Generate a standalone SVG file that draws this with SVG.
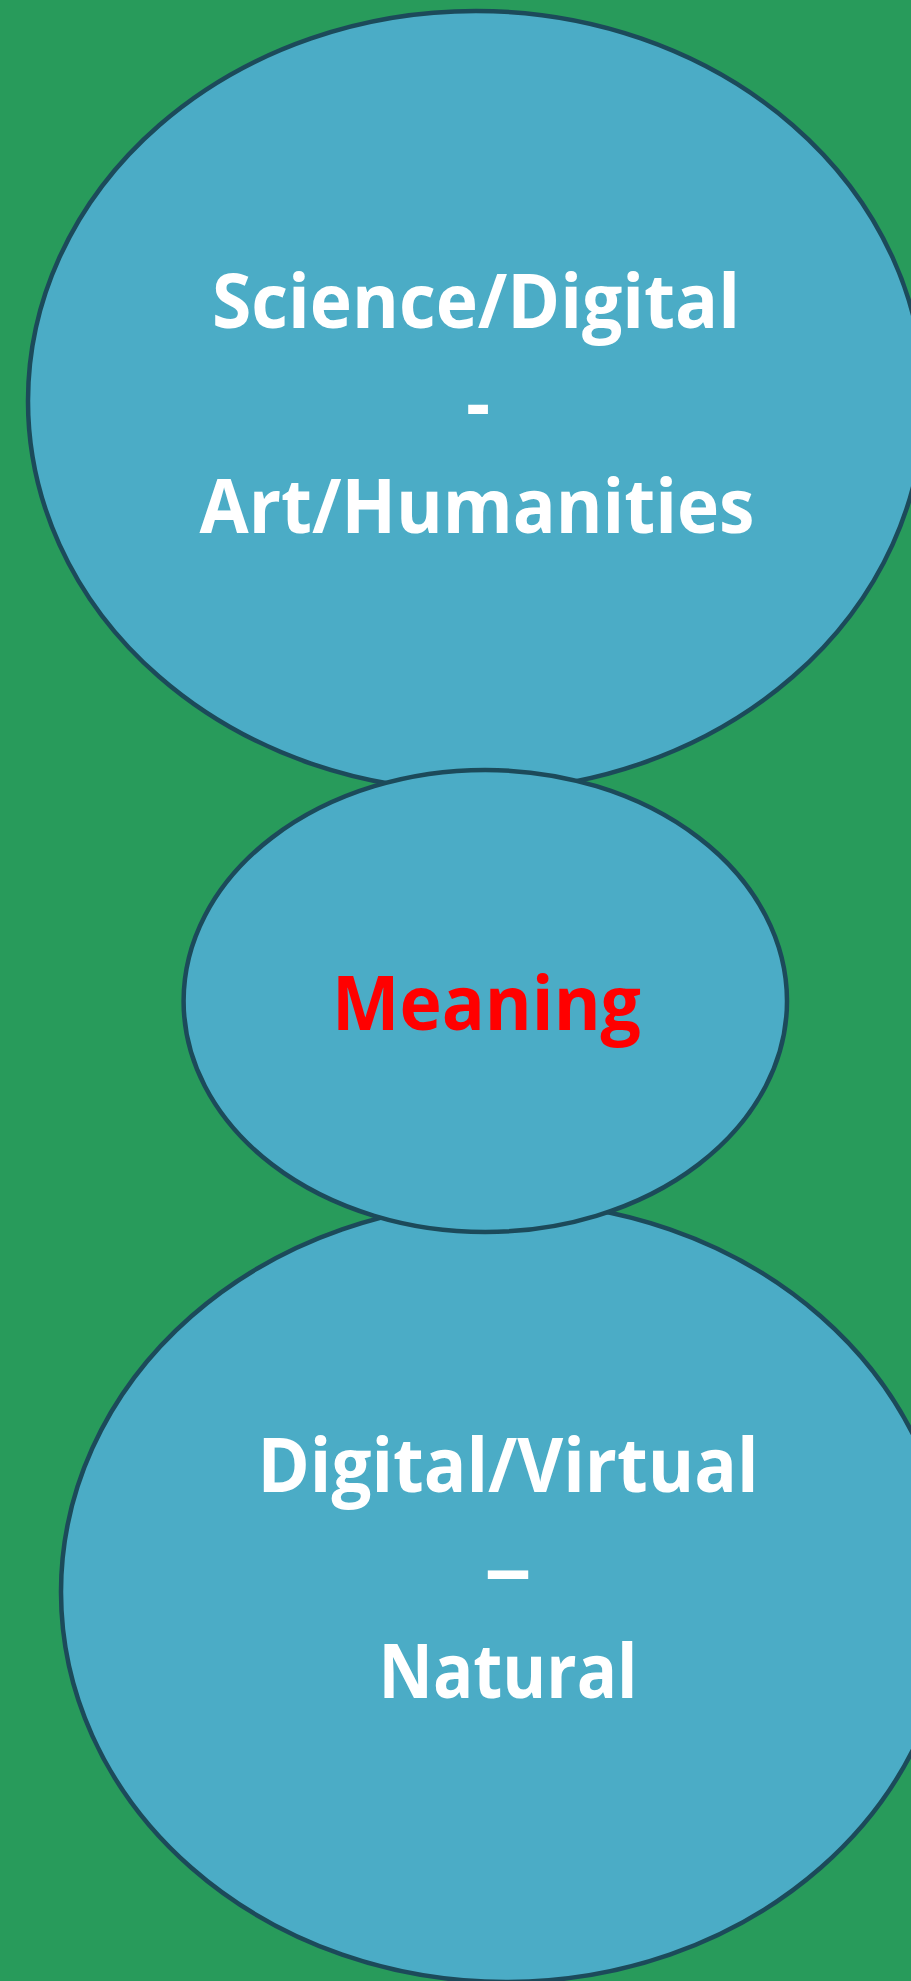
<svg xmlns="http://www.w3.org/2000/svg" width="911" height="1981" viewBox="0 0 911 1981">
<style>
.bubble{fill:#4BACC6;stroke:#1C4A5A;stroke-width:4.5}
.lbl{font-family:"Open Sans","Noto Sans","Liberation Sans",sans-serif;font-weight:bold;font-size:75px;text-anchor:middle;fill:#FFFFFF}
.red{fill:#FF0000}
</style>
<rect x="0" y="0" width="911" height="1981" fill="#289B5B"/>
<g id="connectors"></g>
<g id="node-science">
<ellipse class="bubble" cx="476" cy="401" rx="448" ry="390"/>
<text class="lbl" x="476" y="328" textLength="528" lengthAdjust="spacingAndGlyphs">Science/Digital</text>
<text class="lbl" x="478" y="430">-</text>
<text class="lbl" x="477" y="533" textLength="555" lengthAdjust="spacingAndGlyphs">Art/Humanities</text>
</g>
<g id="node-digital">
<ellipse class="bubble" cx="506" cy="1592" rx="445" ry="390"/>
<text class="lbl" x="508" y="1492" textLength="501" lengthAdjust="spacingAndGlyphs">Digital/Virtual</text>
<text class="lbl" x="508" y="1595" textLength="48" lengthAdjust="spacingAndGlyphs">–</text>
<text class="lbl" x="508" y="1698" textLength="259" lengthAdjust="spacingAndGlyphs">Natural</text>
</g>
<g id="node-meaning">
<ellipse class="bubble" cx="485.3" cy="1001" rx="301.7" ry="231"/>
<text class="lbl red" x="486.5" y="1029.5" textLength="309" lengthAdjust="spacingAndGlyphs">Meaning</text>
</g>
</svg>
